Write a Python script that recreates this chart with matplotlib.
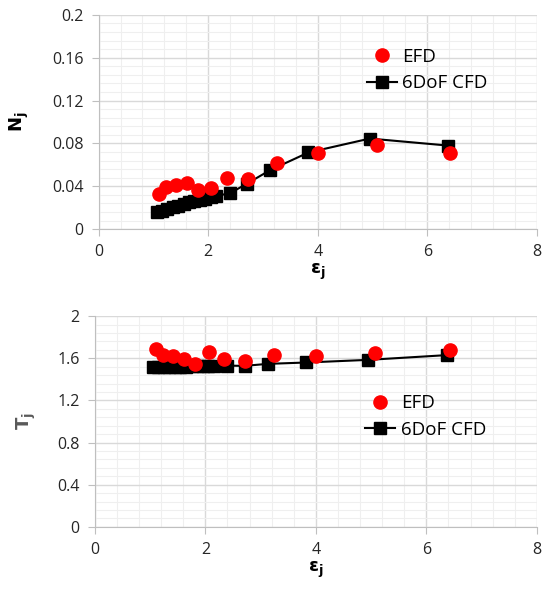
import matplotlib.pyplot as plt
from matplotlib.ticker import MultipleLocator

plt.rcParams['font.family'] = ['Open Sans', 'DejaVu Sans']

# experimental points (EFD)
efd_eps = [1.10, 1.23, 1.41, 1.61, 1.82, 2.06, 2.34, 2.72, 3.25, 4.00, 5.08, 6.42]
efd_N = [0.0327, 0.0389, 0.0411, 0.0427, 0.0364, 0.0380, 0.0473, 0.0464, 0.0614, 0.0707, 0.0785, 0.0713]
efd_T = [1.687, 1.630, 1.620, 1.589, 1.544, 1.655, 1.589, 1.573, 1.633, 1.623, 1.646, 1.677]

# 6DoF CFD results
cfd_eps = [1.06, 1.15, 1.25, 1.35, 1.45, 1.55, 1.65, 1.75, 1.85, 1.95, 2.05, 2.15, 2.40,
           2.71, 3.13, 3.83, 4.95, 6.37]
cfd_N = [0.0155, 0.0170, 0.0190, 0.0205, 0.0220, 0.0235, 0.0250, 0.0260, 0.0270, 0.0280,
         0.0295, 0.0310, 0.0335, 0.0425, 0.0550, 0.0715, 0.0845, 0.0780]
cfd_T = [1.515, 1.515, 1.520, 1.520, 1.520, 1.520, 1.520, 1.525, 1.525, 1.525, 1.525,
         1.530, 1.530, 1.528, 1.547, 1.560, 1.585, 1.630]

fig = plt.figure(figsize=(5.45, 5.92), dpi=100)
ax1 = fig.add_axes([0.181, 0.613, 0.804, 0.362])
ax2 = fig.add_axes([0.174, 0.110, 0.811, 0.356])


def style(ax, ymax, ystep, yfmt):
    ax.set_xlim(0, 8)
    ax.set_ylim(0, ymax)
    ax.xaxis.set_major_locator(MultipleLocator(2))
    ax.xaxis.set_minor_locator(MultipleLocator(0.4))
    ax.yaxis.set_major_locator(MultipleLocator(ystep))
    ax.yaxis.set_minor_locator(MultipleLocator(ystep / 5))
    ax.set_yticks([i * ystep for i in range(6)])
    ax.set_yticklabels([yfmt(i * ystep) for i in range(6)])
    ax.grid(which='major', color='#d9d9d9', lw=1.0)
    ax.grid(which='minor', color='#efefef', lw=0.8)
    ax.set_axisbelow(True)
    for s in ['top', 'right']:
        ax.spines[s].set_visible(False)
    for s in ['left', 'bottom']:
        ax.spines[s].set_color('#bfbfbf')
    ax.tick_params(which='major', direction='out', length=5, color='#bfbfbf',
                   labelsize=11.5, labelcolor='#262626', pad=6)
    ax.tick_params(which='minor', length=0)


style(ax1, 0.2, 0.04, lambda v: '0' if v == 0 else ('%.2f' % v).rstrip('0').rstrip('.'))
style(ax2, 2.0, 0.4, lambda v: '0' if v == 0 else ('%.1f' % v).rstrip('0').rstrip('.'))

for ax, efd, cfd in [(ax1, efd_N, cfd_N), (ax2, efd_T, cfd_T)]:
    ax.plot(efd_eps, efd, 'o', color='#ff0000', ms=9.5, label='EFD', zorder=3)
    ax.plot(cfd_eps, cfd, '-s', color='black', lw=1.5, ms=8.5, label='6DoF CFD', zorder=2)
    ax.set_xlabel(r'$\mathbf{\epsilon_j}$', fontsize=13, labelpad=1)

ax1.set_ylabel(r'$\mathbf{N_j}$', fontsize=13, labelpad=15)
ax2.set_ylabel(r'$\mathbf{T_j}$', fontsize=13, labelpad=14, color='#595959')

for ax, anchor in [(ax1, (0.595, 0.88)), (ax2, (0.595, 0.665))]:
    ax.legend(loc='upper left', bbox_to_anchor=anchor, frameon=False,
              fontsize=13.5, handlelength=1.6, handletextpad=0.3, labelspacing=0.45,
              borderaxespad=0)

fig.savefig('out.png', dpi=100)
